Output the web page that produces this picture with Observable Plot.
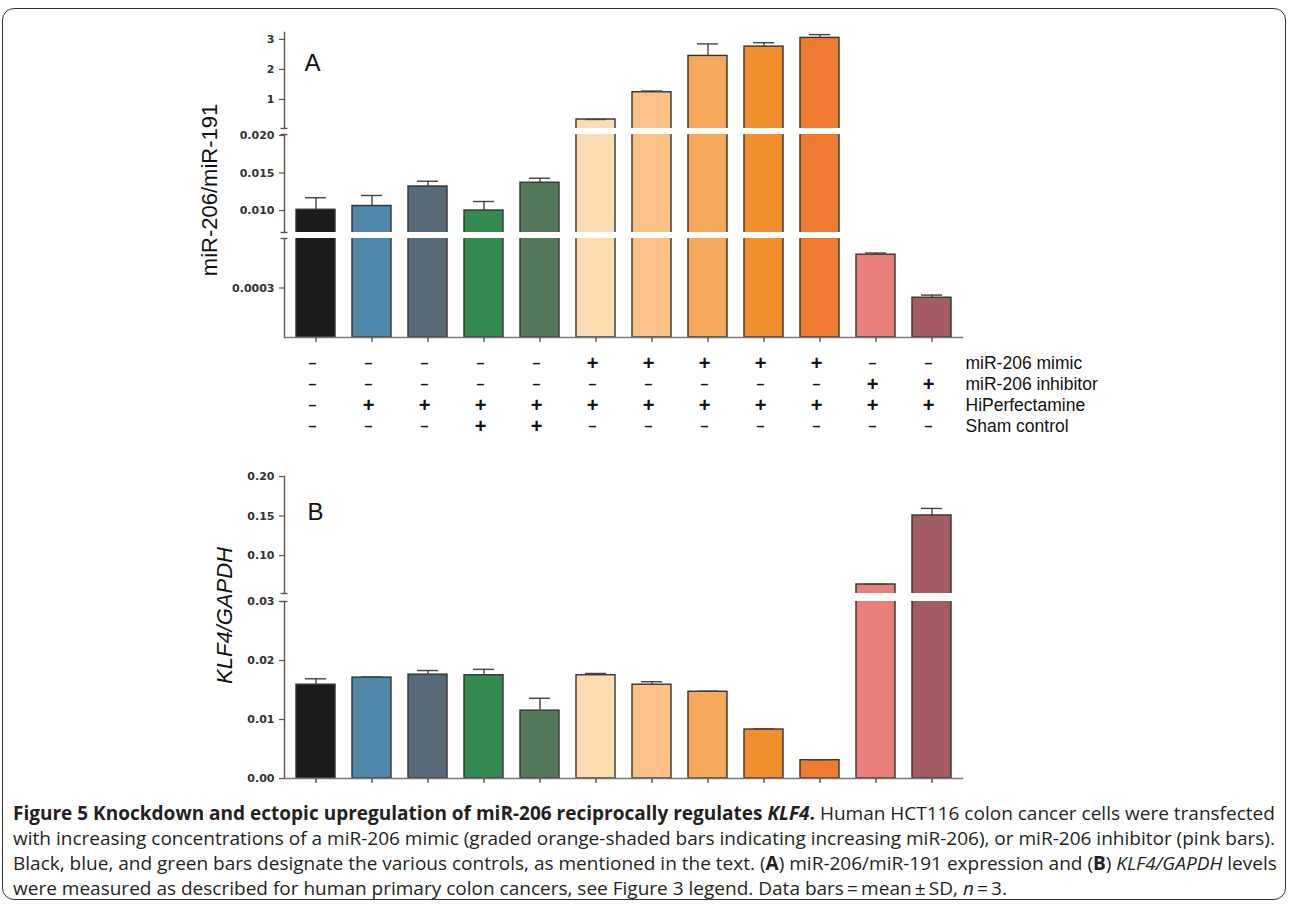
<!DOCTYPE html>
<html><head><meta charset="utf-8">
<script src="https://cdn.jsdelivr.net/npm/d3@7"></script>
<script src="https://cdn.jsdelivr.net/npm/@observablehq/plot@0.6"></script>
<style>
body{margin:0;background:#fff;}
#fig{position:relative;width:1289px;height:907px;overflow:hidden;background:#fff;}
#frame{position:absolute;left:2px;top:8px;width:1284px;height:892px;border:1.5px solid #333;border-radius:12px;box-sizing:border-box;}
.panel{position:absolute;left:0;}
#caption{position:absolute;left:13px;top:801px;font-family:"Open Sans",sans-serif;color:#231f20;line-height:25px;white-space:nowrap;}
#caption div{white-space:nowrap;}
</style></head>
<body>
<div id="fig">
  <div id="frame"></div>
  <div id="pa" class="panel" style="top:0px"></div>
  <div id="tbl" class="panel" style="top:340px"></div>
  <div id="pb" class="panel" style="top:450px"></div>
  <div id="caption"></div>
</div>
<script>
// ---- data ----
const conditions = ["1","2","3","4","5","6","7","8","9","10","11","12"];
const barColors = ["#1b1b1b","#4f87a8","#566a79","#338b52","#557a5a","#fedcb3","#fbc187","#f5a95c","#f28f2e","#ef7a31","#e97f7a","#a35c60"];

const mirValues = [0.0101, 0.0106, 0.0132, 0.0100, 0.0137, 0.333, 1.24, 2.45, 2.76, 3.05, 0.000502, 0.000241];
const mirErrors = [0.0016, 0.0014, 0.0007, 0.0012, 0.0006, 0.0, 0.04, 0.40, 0.13, 0.11, 0.00001, 0.000016];
const mirTicks = [3, 2, 1, 0.020, 0.015, 0.010, 0.0003];
const mirTickLabels = ["3", "2", "1", "0.020", "0.015", "0.010", "0.0003"];

const klfValues = [0.0159, 0.0171, 0.0176, 0.0175, 0.0115, 0.0175, 0.0159, 0.0147, 0.0083, 0.0031, 0.0634, 0.1507];
const klfErrors = [0.0010, 0.0001, 0.0007, 0.0010, 0.0021, 0.0003, 0.0005, 0.0001, 0.0001, 0.0001, 0.0002, 0.0089];
const klfTicks = [0.20, 0.15, 0.10, 0.03, 0.02, 0.01, 0.00];
const klfTickLabels = ["0.20", "0.15", "0.10", "0.03", "0.02", "0.01", "0.00"];

const rowNames = ["miR-206 mimic", "miR-206 inhibitor", "HiPerfectamine", "Sham control"];
const rowMimic     = ["-","-","-","-","-","+","+","+","+","+","-","-"];
const rowInhibitor = ["-","-","-","-","-","-","-","-","-","-","+","+"];
const rowHiPerf    = ["-","+","+","+","+","+","+","+","+","+","+","+"];
const rowSham      = ["-","-","-","+","+","-","-","-","-","-","-","-"];

// ---- layout (pixel positions of axis segments within each svg) ----
const segsA = [
  {lo: 0,       hi: 0.0006,  y0: 337, y1: 238},
  {lo: 0.00707, hi: 0.02013, y0: 232, y1: 134},
  {lo: 0.033,   hi: 3.23,    y0: 128, y1: 32}
];
const segsB = [
  {lo: 0,     hi: 0.030, y0: 328, y1: 151},
  {lo: 0.052, hi: 0.20,  y0: 143, y1: 26}
];

const W = 1289, ML = 284, MR = 327;
const xScale = {domain: conditions, paddingInner: 0.31, paddingOuter: 0.155, axis: null};

function panel({values, errors, segs, ticks, tickLabels, label, italic, letter, letterDx, letterDy, height, labelDx, labelDy}) {
  const data = conditions.map((c, i) => ({c, v: values[i], e: errors[i], color: barColors[i]}));
  const domain = segs.flatMap(s => [s.lo, s.hi]);
  const range = segs.flatMap(s => [s.y0, s.y1]);
  const gaps = segs.slice(1).map((s, i) => ({lo: segs[i].hi, hi: s.lo}));
  const caps = [];
  segs.forEach((s, i) => { if (i > 0) caps.push(s.lo); if (i < segs.length - 1) caps.push(s.hi); });
  const fmt = new Map(ticks.map((t, i) => [t, tickLabels[i]]));
  const marginTop = segs[segs.length - 1].y1;
  const marginBottom = height - segs[0].y0;
  return Plot.plot({
    width: W, height, marginLeft: ML, marginRight: MR, marginTop, marginBottom,
    style: {fontFamily: "'Liberation Sans', Arial, sans-serif", color: "#333", background: "transparent", overflow: "visible"},
    x: xScale,
    y: {type: "linear", domain, range, axis: null},
    color: {type: "identity"},
    marks: [
      Plot.barY(data, {x: "c", y1: 0, y2: "v", fill: "color", stroke: "#333", strokeWidth: 1.4}),
      Plot.ruleX(data.filter(d => d.e > 0), {x: "c", y1: "v", y2: d => d.v + d.e, stroke: "#444", strokeWidth: 1.4}),
      Plot.tickY(data, {x: "c", y: d => d.v + d.e, insetLeft: 9, insetRight: 9, stroke: "#444", strokeWidth: 1.4}),
      Plot.frame({anchor: "left", stroke: "#555", strokeWidth: 1.4}),
      Plot.frame({anchor: "bottom", stroke: "#777", strokeWidth: 1.4}),
      Plot.rect(gaps, {y1: "lo", y2: "hi", fill: "white", insetLeft: -8}),
      Plot.axisY(caps, {tickSize: 7, dx: 3.5, tickFormat: () => "", label: null, stroke: "#555", strokeWidth: 1.4}),
      Plot.axisY(ticks, {tickSize: 5, tickPadding: 5, tickFormat: d => fmt.get(d), label: null, fontSize: 11, fontWeight: "bold", fontFamily: "'DejaVu Sans', sans-serif", stroke: "#555", strokeWidth: 1.2, fill: "#333"}),
      Plot.axisX({tickSize: 5, tickFormat: () => "", label: null, stroke: "#555", strokeWidth: 1.4}),
      Plot.text([letter], {frameAnchor: "top-left", dx: letterDx, dy: letterDy, lineAnchor: "top", textAnchor: "start", fontSize: 24, fill: "#111"}),
      Plot.text([label], {frameAnchor: "left", textAnchor: "middle", lineAnchor: "middle", rotate: -90, dx: labelDx, dy: labelDy, fontSize: 22, fontStyle: italic ? "italic" : "normal", fill: "#111"})
    ]
  });
}

document.getElementById("pa").append(panel({
  values: mirValues, errors: mirErrors, segs: segsA, ticks: mirTicks, tickLabels: mirTickLabels,
  label: "miR-206/miR-191", italic: false, letter: "A", letterDx: 20, letterDy: 21,
  height: 345, labelDx: -75, labelDy: 5
}));

document.getElementById("pb").append(panel({
  values: klfValues, errors: klfErrors, segs: segsB, ticks: klfTicks, tickLabels: klfTickLabels,
  label: "KLF4/GAPDH", italic: true, letter: "B", letterDx: 23, letterDy: 26,
  height: 340, labelDx: -60, labelDy: -12
}));

// ---- condition table ----
const rowsSigns = [rowMimic, rowInhibitor, rowHiPerf, rowSham];
const cells = rowNames.flatMap((r, j) => conditions.map((c, i) => ({c, row: r, s: rowsSigns[j][i]})));
document.getElementById("tbl").append(Plot.plot({
  width: W, height: 110, marginLeft: ML, marginRight: MR, marginTop: 12, marginBottom: 14,
  style: {fontFamily: "'Liberation Sans', Arial, sans-serif", color: "#111", background: "transparent", overflow: "visible"},
  x: xScale,
  y: {type: "point", domain: rowNames, range: [12, 96], axis: null},
  marks: [
    Plot.text(cells.filter(d => d.s === "+"), {x: "c", y: "row", text: () => "+", fontSize: 20, fontWeight: "bold", dx: -3, fill: "#111"}),
    Plot.text(cells.filter(d => d.s === "-"), {x: "c", y: "row", text: () => "\u2013", fontSize: 14, fontWeight: "bold", dx: -3, fill: "#111"}),
    Plot.text(rowNames, {y: d => d, text: d => d, frameAnchor: "right", textAnchor: "start", dx: 3, fontSize: 17.5, fill: "#111"})
  ]
}));

// ---- caption ----
const cap = document.getElementById("caption");
cap.innerHTML =
  '<div id="cl1"><b>Figure 5 Knockdown and ectopic upregulation of miR-206 reciprocally regulates <i>KLF4</i>.</b> Human HCT116 colon cancer cells were transfected</div>' +
  '<div>with increasing concentrations of a miR-206 mimic (graded orange-shaded bars indicating increasing miR-206), or miR-206 inhibitor (pink bars).</div>' +
  '<div>Black, blue, and green bars designate the various controls, as mentioned in the text. (<b>A</b>) miR-206/miR-191 expression and (<b>B</b>) <i>KLF4/GAPDH</i> levels</div>' +
  '<div>were measured as described for human primary colon cancers, see Figure 3 legend. Data bars\u2009=\u2009mean\u2009\u00b1\u2009SD, <i>n</i>\u2009=\u20093.</div>';
cap.style.fontSize = "18px";
const l1 = document.getElementById("cl1");
const r = document.createRange(); r.selectNodeContents(l1);
const w1 = r.getBoundingClientRect().width;
cap.style.fontSize = (18 * 1262 / w1).toFixed(2) + "px";
</script>
</body></html>
